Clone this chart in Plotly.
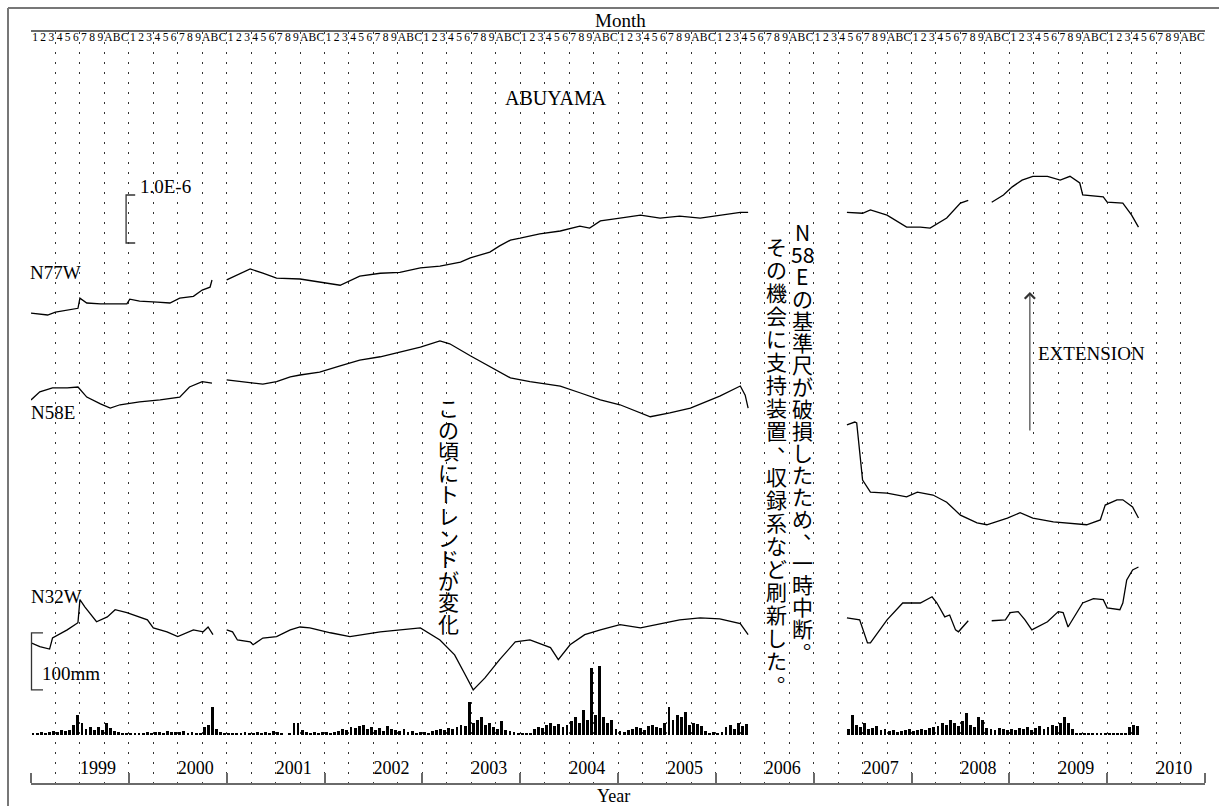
import plotly.graph_objects as go

# ---------------- data ----------------
years = list(range(1999, 2011))
year_labels = [str(y) for y in years]
month_labels = ["1", "2", "3", "4", "5", "6", "7", "8", "9", "A", "B", "C"]

# strain traces: decimal year, strain change (x1e-6); None = no data
n77w_t = [1999.00, 1999.17, 1999.25, 1999.48, 1999.50, 1999.57, 1999.71, 1999.98, 2000.01, 2000.11,
          2000.29, 2000.42, 2000.52, 2000.66, 2000.75, 2000.83, 2000.85, 2000.93, 2001.00, 2001.11,
          2001.24, 2001.37, 2001.51, 2001.75, 2001.95, 2002.16, 2002.36, 2002.57, 2002.77, 2002.98,
          2003.18, 2003.39, 2003.49, 2003.69, 2003.79, 2003.90, 2004.00, 2004.20, 2004.41, 2004.61,
          2004.71, 2004.82, 2005.02, 2005.23, 2005.43, 2005.63, 2005.84, 2006.04, 2006.25, 2006.33,
          2006.80, 2007.34, 2007.50, 2007.58, 2007.75, 2007.95, 2008.09, 2008.19, 2008.24, 2008.36,
          2008.50, 2008.58, 2008.70, 2008.82, 2008.94, 2009.03, 2009.13, 2009.24, 2009.39, 2009.52,
          2009.62, 2009.72, 2009.75, 2009.96, 2010.00, 2010.16, 2010.25, 2010.32]
n77w_v = [0.00, -0.04, 0.02, 0.10, 0.31, 0.21, 0.19, 0.19, 0.29, 0.25,
          0.23, 0.21, 0.31, 0.35, 0.48, 0.54, 0.69, None, 0.69, 0.79,
          0.92, 0.83, 0.73, 0.71, 0.65, 0.58, 0.77, 0.83, 0.85, 0.94,
          0.98, 1.06, 1.15, 1.27, 1.40, 1.52, 1.56, 1.65, 1.71, 1.81,
          1.77, 1.92, 1.98, 2.04, 1.98, 2.02, 1.98, 2.04, 2.10, 2.10,
          None, 2.10, 2.08, 2.15, 2.04, 1.79, 1.79, 1.77, 1.83, 1.98,
          2.29, 2.35, None, 2.31, 2.46, 2.63, 2.77, 2.85, 2.85, 2.77,
          2.85, 2.71, 2.46, 2.42, 2.31, 2.29, 2.04, 1.79]

n58e_t = [1999.00, 1999.09, 1999.22, 1999.37, 1999.48, 1999.57, 1999.71, 1999.81, 1999.91, 2000.11,
          2000.32, 2000.52, 2000.62, 2000.75, 2000.85, 2000.93, 2001.00, 2001.14, 2001.37, 2001.51,
          2001.65, 2001.75, 2001.95, 2002.16, 2002.36, 2002.57, 2002.77, 2002.98, 2003.18, 2003.28,
          2003.49, 2003.69, 2003.90, 2004.10, 2004.41, 2004.61, 2004.82, 2005.02, 2005.33, 2005.53,
          2005.74, 2006.04, 2006.25, 2006.30, 2006.33, 2006.80, 2007.34, 2007.42, 2007.44, 2007.47,
          2007.50, 2007.58, 2007.75, 2007.95, 2008.06, 2008.22, 2008.36, 2008.50, 2008.67, 2008.77,
          2008.98, 2009.11, 2009.24, 2009.45, 2009.72, 2009.79, 2009.93, 2009.98, 2010.10, 2010.16,
          2010.26, 2010.32]
n58e_v = [0.00, 0.17, 0.25, 0.25, 0.27, 0.06, -0.08, -0.17, -0.10, -0.04,
          0.00, 0.06, 0.27, 0.38, 0.35, None, 0.42, 0.38, 0.33, 0.38,
          0.48, 0.52, 0.58, 0.71, 0.83, 0.90, 1.00, 1.10, 1.23, 1.17,
          0.92, 0.69, 0.46, 0.38, 0.29, 0.15, 0.00, -0.10, -0.35, -0.27,
          -0.17, 0.08, 0.29, 0.10, -0.17, None, -0.52, -0.46, -0.48, -1.04,
          -1.67, -1.92, -1.94, -2.02, -1.92, -1.98, -2.13, -2.40, -2.56, -2.60,
          -2.46, -2.35, -2.46, -2.54, -2.60, -2.60, -2.50, -2.19, -2.08, -2.08,
          -2.23, -2.46]

n32w_t = [1999.00, 1999.09, 1999.19, 1999.22, 1999.37, 1999.48, 1999.50, 1999.55, 1999.67, 1999.78,
          1999.86, 1999.98, 2000.19, 2000.25, 2000.39, 2000.50, 2000.66, 2000.76, 2000.81, 2000.86,
          2000.93, 2001.00, 2001.06, 2001.11, 2001.24, 2001.27, 2001.37, 2001.51, 2001.65, 2001.75,
          2001.85, 2002.06, 2002.26, 2002.57, 2002.77, 2002.98, 2003.18, 2003.33, 2003.44, 2003.52,
          2003.64, 2003.79, 2003.95, 2004.10, 2004.31, 2004.39, 2004.51, 2004.66, 2004.82, 2005.02,
          2005.23, 2005.43, 2005.63, 2005.84, 2006.04, 2006.25, 2006.33, 2006.80, 2007.34, 2007.47,
          2007.55, 2007.58, 2007.75, 2007.91, 2008.09, 2008.21, 2008.26, 2008.34, 2008.39, 2008.45,
          2008.48, 2008.58, 2008.70, 2008.82, 2008.96, 2009.01, 2009.09, 2009.16, 2009.23, 2009.39,
          2009.50, 2009.55, 2009.60, 2009.75, 2009.86, 2009.96, 2010.00, 2010.13, 2010.16, 2010.20,
          2010.26, 2010.32]
n32w_v = [0.00, -0.08, -0.13, 0.10, 0.27, 0.42, 0.90, 0.75, 0.44, 0.54,
          0.69, 0.63, 0.48, 0.31, 0.23, 0.13, 0.27, 0.23, 0.33, 0.17,
          None, 0.27, 0.23, 0.06, 0.02, -0.04, 0.10, 0.13, 0.27, 0.33,
          0.31, 0.21, 0.13, 0.23, 0.27, 0.31, 0.06, -0.25, -0.67, -0.98,
          -0.73, -0.35, 0.02, 0.06, -0.10, -0.35, -0.04, 0.17, 0.27, 0.38,
          0.31, 0.40, 0.48, 0.52, 0.50, 0.40, 0.17, None, 0.52, 0.48,
          0.00, 0.00, 0.48, 0.83, 0.83, 0.96, 0.83, 0.54, 0.58, 0.27,
          0.23, 0.46, None, 0.46, 0.48, 0.63, 0.65, 0.48, 0.27, 0.44,
          0.65, 0.63, 0.33, 0.83, 0.92, 0.90, 0.73, 0.69, 0.83, 1.31,
          1.52, 1.58]

# rainfall (mm), half-month resolution, None = no record
rain_1999 = [2, 4, 5, 4, 5, 7, 5, 9, 7, 9, 18, 35, 21, 10, 14, 9, 14, 9, 21, 12, 7, 5, 4, 2]
rain_2000 = [2, 4, 4, 4, 5, 4, 5, 5, 4, 7, 5, 5, 5, 7, 4, 5, 4, 2, 14, 18, 49, 10, 5, 4]
rain_2001 = [4, 2, 4, 4, 5, 4, 4, 5, 4, 5, 4, 7, 5, 4, 0, 2, 21, 21, 9, 5, 4, 5, 4, 5]
rain_2002 = [5, 4, 5, 7, 10, 9, 14, 12, 16, 18, 10, 14, 9, 12, 7, 16, 10, 9, 7, 10, 5, 7, 4, 5]
rain_2003 = [5, 4, 7, 9, 10, 9, 12, 10, 14, 18, 16, 58, 21, 26, 32, 18, 21, 14, 10, 25, 9, 7, 5, 4]
rain_2004 = [2, 2, 4, 10, 14, 12, 18, 21, 16, 19, 14, 18, 25, 32, 21, 44, 26, 117, 35, 121, 32, 21, 26, 10]
rain_2005 = [7, 5, 9, 10, 14, 12, 9, 16, 18, 14, 12, 21, 49, 26, 35, 32, 40, 18, 21, 19, 16, 7, 4, 5]
rain_2006 = [4, 5, 14, 18, 10, 21, 16, 19] + [None] * 16
rain_2007 = [None] * 8 + [10, 35, 18, 14, 21, 10, 12, 16, 9, 10, 7, 9, 5, 7, 9, 10]
rain_2008 = [7, 9, 10, 9, 12, 14, 16, 21, 18, 26, 21, 16, 25, 39, 18, 14, 32, 26, 12, 10, 9, 12, 10, 9]
rain_2009 = [10, 9, 12, 10, 14, 9, 12, 16, 10, 14, 18, 16, 21, 32, 21, 10, 4, 2, 2, 4, 2, 2, 4, 2]
rain_2010 = [2, 4, 2, 4, 4, 14, 18, 16] + [None] * 16

note_trend = "この頃にトレンドが変化"
note_break_1 = ["N", "58", "E", "の", "基", "準", "尺", "が", "破", "損", "し", "た", "た", "め", "、",
                "一", "時", "中", "断", "。"]
note_break_2 = list("その機会に支持装置、収録系など刷新した。")

# ---------------- layout constants ----------------
W, H = 1219, 806
PL, PR, PT, PB = 31, 1205, 32, 783
PX_PER_STRAIN = 48.0           # px per 1e-6
PX_PER_MM = 57.0 / 100.0       # rain scale
RAIN_BASE_PX = 48.0            # rain baseline above plot bottom
Y_TOP = (PB - PT) / PX_PER_STRAIN
RAIN_RANGE = [-RAIN_BASE_PX / PX_PER_MM, ((PB - PT) - RAIN_BASE_PX) / PX_PER_MM]
OFF_N77W, OFF_N58E, OFF_N32W = 9.79, 7.98, 2.92

SERIF = "Liberation Serif"
CJK = "Noto Sans CJK JP"
AXIS_GRAY = "#6a6a6a"


def pxx(px):
    return (px - PL) / (PR - PL)


def pxy(py):
    return (PB - py) / (PB - PT)


def shifted(vals, off):
    return [None if v is None else v + off for v in vals]


assert len(n77w_t) == len(n77w_v)
assert len(n58e_t) == len(n58e_v)
assert len(n32w_t) == len(n32w_v)

fig = go.Figure()

# rainfall bars
rain_years = [rain_1999, rain_2000, rain_2001, rain_2002, rain_2003, rain_2004,
              rain_2005, rain_2006, rain_2007, rain_2008, rain_2009, rain_2010]
rx, ry = [], []
for yr, vals in zip(years, rain_years):
    for i, v in enumerate(vals):
        if v is None:
            continue
        rx.append(yr + (i + 0.5) / 24.0)
        ry.append(v)
fig.add_trace(go.Bar(x=rx, y=ry, xaxis="x2", yaxis="y2", width=0.7 / 24.0,
                     marker=dict(color="black", line=dict(width=0)), showlegend=False,
                     hoverinfo="skip"))

for t, v, off in [(n77w_t, n77w_v, OFF_N77W), (n58e_t, n58e_v, OFF_N58E), (n32w_t, n32w_v, OFF_N32W)]:
    fig.add_trace(go.Scatter(x=t, y=shifted(v, off), mode="lines",
                             line=dict(color="black", width=1.3), connectgaps=False,
                             showlegend=False, hoverinfo="skip"))

tick_month = [y + (m + 0.5) / 12.0 for y in years for m in range(12)]

fig.update_layout(
    width=W, height=H,
    margin=dict(l=PL, r=W - PR, t=PT, b=H - PB, pad=0),
    paper_bgcolor="white", plot_bgcolor="white",
    showlegend=False,
    bargap=0,
    xaxis=dict(range=[1999, 2011], showgrid=False, zeroline=False,
               showline=True, linecolor=AXIS_GRAY, linewidth=2,
               tickmode="array", tickvals=[y + 0.685 for y in years], ticktext=year_labels,
               ticks="", ticklabelposition="inside", ticklabeloverflow="allow",
               ticklabelstandoff=6, tickangle=0,
               tickfont=dict(family=SERIF, size=18, color="black"),
               minor=dict(tickmode="linear", tick0=1999, dtick=1, ticks="inside",
                          ticklen=10, tickwidth=1.5, tickcolor=AXIS_GRAY, showgrid=False)),
    xaxis2=dict(range=[1999, 2011], overlaying="x", anchor="y", side="top",
                showgrid=False, zeroline=False,
                showline=True, linecolor=AXIS_GRAY, linewidth=2,
                tickmode="array", tickvals=tick_month, ticktext=month_labels * len(years),
                ticks="", ticklabelposition="inside", ticklabeloverflow="allow",
                tickangle=0, automargin=False,
                tickfont=dict(family=SERIF, size=11.5, color="black"),
                minor=dict(tickmode="linear", tick0=1999, dtick=0.25, ticks="",
                           showgrid=True, gridcolor="#333333", gridwidth=1.3,
                           griddash="2px,8px")),
    yaxis=dict(range=[0, Y_TOP], visible=False, fixedrange=True),
    yaxis2=dict(range=RAIN_RANGE, overlaying="y", anchor="x", visible=False),
)

shapes = []
# outer frame (top and left edges)
shapes.append(dict(type="line", xref="paper", yref="paper", x0=pxx(8), x1=pxx(1230),
                   y0=pxy(8), y1=pxy(8), line=dict(color="#777777", width=2)))
shapes.append(dict(type="line", xref="paper", yref="paper", x0=pxx(8), x1=pxx(8),
                   y0=pxy(8), y1=pxy(815), line=dict(color="#777777", width=2)))
# strain scale bar 1.0E-6
sx0, sx1, sy0 = 1999.972, 2000.065, 11.25
shapes.append(dict(type="path", xref="x", yref="y",
                   path=f"M {sx1},{sy0 + 1.0} L {sx0},{sy0 + 1.0} L {sx0},{sy0} L {sx1},{sy0}",
                   line=dict(color="#333333", width=1.3)))
# rain scale bar 100 mm
shapes.append(dict(type="path", xref="paper", yref="y2",
                   path=f"M {pxx(43)},{179} L {pxx(31.5)},{179} L {pxx(31.5)},{79} L {pxx(43)},{79}",
                   line=dict(color="#333333", width=1.3)))

ann = []


def label(text, px, py, size=19, xanchor="left", family=SERIF):
    ann.append(dict(text=text, x=pxx(px), y=pxy(py), xref="paper", yref="paper",
                    xanchor=xanchor, yanchor="middle", showarrow=False,
                    font=dict(family=family, size=size, color="black")))


label("Month", 621, 20, size=19, xanchor="center")
label("Year", 613, 796, size=18, xanchor="center")
label("ABUYAMA", 556, 98, size=20, xanchor="center")
label("1.0E-6", 138, 186)
label("N77W", 28, 272)
label("N58E", 29, 412)
label("N32W", 29, 596)
label("100mm", 40, 673)
label("EXTENSION", 1036, 353)


def vertical(chars, cx, y0, step, size=21):
    for i, ch in enumerate(chars):
        xs, ys = 0, 0
        if ch in "、。":
            xs, ys = int(size * 0.55), int(size * 0.55)
        ann.append(dict(text=ch, x=pxx(cx), y=pxy(y0 + i * step), xref="paper", yref="paper",
                        xanchor="center", yanchor="middle", showarrow=False,
                        xshift=xs, yshift=ys,
                        font=dict(family=CJK, size=size, color="black")))


vertical(list(note_trend), 448, 407, 21.6)
vertical(note_break_1, 802, 232, 22.0)
vertical(note_break_2, 776, 246, 23.0)

# extension arrow
ann.append(dict(text="", x=2009.21, y=(PB - 292) / PX_PER_STRAIN, xref="x", yref="y",
                ax=2009.21, ay=(PB - 432) / PX_PER_STRAIN, axref="x", ayref="y",
                showarrow=True, arrowhead=4, arrowsize=1.8, arrowwidth=1.1,
                arrowcolor="#333333"))

fig.update_layout(shapes=shapes, annotations=ann)

fig.write_html("out.html", config={"displayModeBar": False},
               post_script="document.body.style.margin='0';document.body.style.overflow='hidden';")
